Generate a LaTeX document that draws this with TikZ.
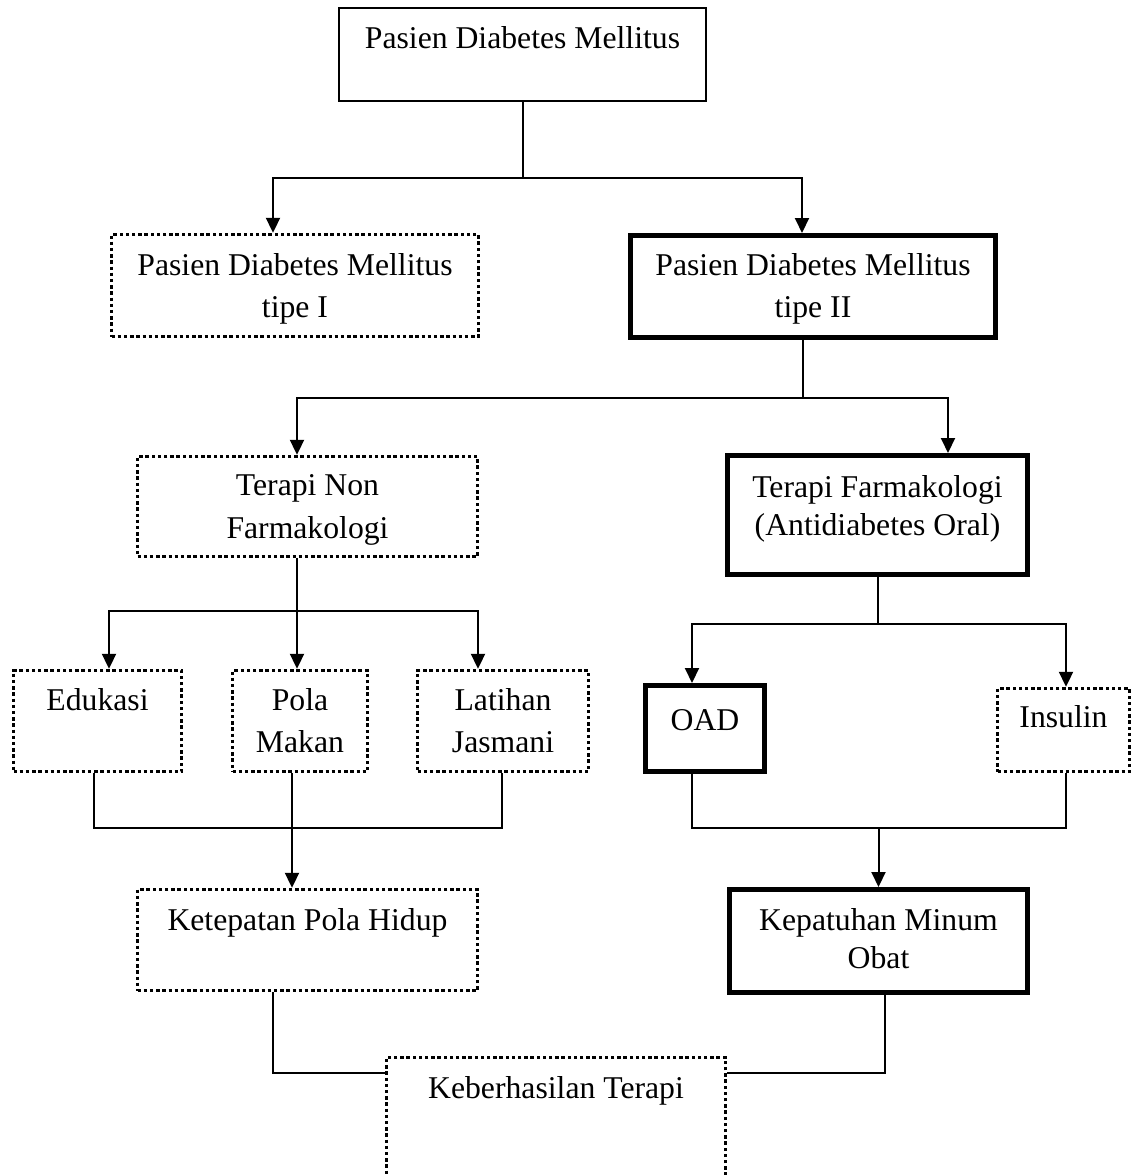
\documentclass[tikz,border=0pt]{standalone}
\usepackage{fontspec}
\setmainfont{Liberation Serif}
\usetikzlibrary{arrows.meta}
\newcommand\bxt[5]{\parbox[c][#2pt][t]{#1pt}{\centering\fontsize{31.7pt}{#4pt}\selectfont\rule{0pt}{#3pt}#5\par}}
\begin{document}
\begin{tikzpicture}[x=1pt,y=-1pt,
  line/.style={line width=2pt},
  arr/.style={line width=2pt,-{Triangle[length=15pt,width=14pt]}},
  thinbox/.style={draw,line width=1.3pt,inner sep=0pt},
  thickbox/.style={draw,line width=5pt,inner sep=0pt},
  dotbox/.style={draw,line width=3.4pt,dash pattern=on 3.4pt off 2.8pt,inner sep=0pt}]
\useasboundingbox (0,0) rectangle (1132,1175);
\clip (0,0) rectangle (1132,1175);
\fill[white] (0,0) rectangle (1132,1175);

\node[thinbox] (top) at (522.5,54.5) {\bxt{367}{93}{40}{42}{Pasien Diabetes Mellitus}};
\node[dotbox] (t1) at (295,285.5) {\bxt{367}{102}{40.5}{42}{Pasien Diabetes Mellitus\\tipe I}};
\node[thickbox] (t2) at (813,286.5) {\bxt{365}{102}{39.5}{42}{Pasien Diabetes Mellitus\\tipe II}};
\node[dotbox] (tn) at (307.5,506.5) {\bxt{340}{100}{38.5}{43}{Terapi Non\\Farmakologi}};
\node[thickbox] (tf) at (877.5,515) {\bxt{300}{119}{41.5}{38}{Terapi Farmakologi\\(Antidiabetes Oral)}};
\node[dotbox] (ed) at (97.5,721) {\bxt{168}{101}{39.5}{42}{Edukasi}};
\node[dotbox] (pm) at (300,721) {\bxt{135}{101}{39.5}{42}{Pola\\Makan}};
\node[dotbox] (lj) at (503,721) {\bxt{171}{101}{39.5}{42}{Latihan\\Jasmani}};
\node[thickbox] (oad) at (705,728.5) {\bxt{119}{86}{44.5}{42}{OAD}};
\node[dotbox] (ins) at (1063.5,730) {\bxt{132}{83}{38.5}{42}{Insulin}};
\node[dotbox] (kt) at (307.5,940) {\bxt{340}{101}{40.5}{42}{Ketepatan Pola Hidup}};
\node[thickbox] (kp) at (878.5,941) {\bxt{298}{103}{40.5}{38}{Kepatuhan Minum\\Obat}};
\node[dotbox] (kb) at (556,1136.25) {\bxt{339}{157.5}{40.5}{42}{Keberhasilan Terapi}};

\coordinate (j1) at (0,178);
\coordinate (j2) at (0,398);
\coordinate (j3) at (0,611);
\coordinate (j4) at (0,624);
\coordinate (j5) at (0,828);
\coordinate (j6) at (0,1073);

\draw[arr] (top.south) -- (top.south |- j1) -| ([xshift=-22pt]t1.north);
\draw[arr] (top.south |- j1) -| ([xshift=-11pt]t2.north);

\draw[arr] ([xshift=-10pt]t2.south) -- ([xshift=-10pt]t2.south |- j2) -| ([xshift=-10.5pt]tn.north);
\draw[arr] ([xshift=-10pt]t2.south |- j2) -| ([xshift=70.5pt]tf.north);

\draw[arr] ([xshift=-10.5pt]tn.south) -- ([xshift=-10.5pt]tn.south |- j3) -| ([xshift=11.5pt]ed.north);
\draw[arr] ([xshift=-10.5pt]tn.south |- j3) -| ([xshift=-25pt]lj.north);
\draw[arr] ([xshift=-10.5pt]tn.south |- j3) -- ([xshift=-3pt]pm.north);

\draw[arr] (tf.south) -- (tf.south |- j4) -| ([xshift=-13pt]oad.north);
\draw[arr] (tf.south |- j4) -| ([xshift=2.5pt]ins.north);

\draw[line] ([xshift=-3.5pt]ed.south) |- ([xshift=-1pt]lj.south |- j5) -- ([xshift=-1pt]lj.south);
\draw[arr] ([xshift=-8pt]pm.south) -- ([xshift=-15.5pt]kt.north);

\draw[line] ([xshift=-13pt]oad.south) |- ([xshift=2.5pt]ins.south |- j5) -- ([xshift=2.5pt]ins.south);
\draw[arr] (kp.north |- j5) -- (kp.north);

\draw[line] ([xshift=-34.5pt]kt.south) |- (kb.west |- j6);
\draw[line] ([xshift=6.5pt]kp.south) |- (kb.east |- j6);
\end{tikzpicture}
\end{document}
